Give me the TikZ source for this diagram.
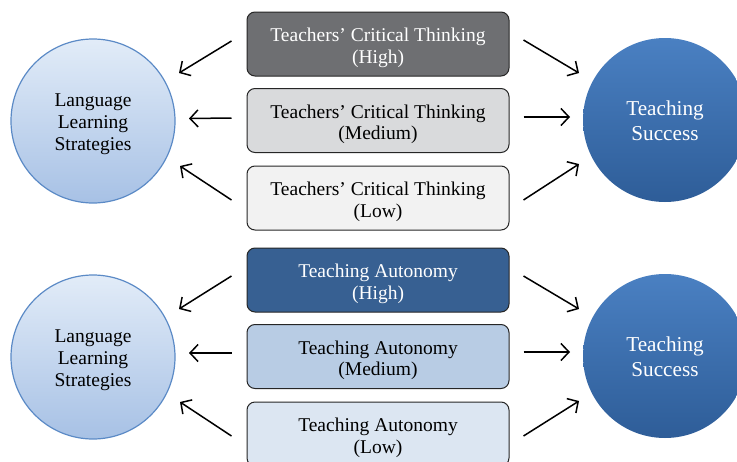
\documentclass[tikz,border=0pt]{standalone}
\usepackage{fontspec}
\setmainfont{Liberation Serif}
\usetikzlibrary{arrows.meta}
\definecolor{ctHigh}{HTML}{6E6F72}
\definecolor{ctMed}{HTML}{D9DADC}
\definecolor{ctLow}{HTML}{F2F2F2}
\definecolor{taHigh}{HTML}{376092}
\definecolor{taMed}{HTML}{B8CCE4}
\definecolor{taLow}{HTML}{DCE6F2}
\definecolor{lcTop}{HTML}{E2ECF8}
\definecolor{lcBot}{HTML}{A7C1E5}
\definecolor{lcBorder}{HTML}{5B8AC6}
\definecolor{rcTop}{HTML}{4A80C2}
\definecolor{rcBot}{HTML}{2E5D98}
% stacked centred lines, shifted down without changing the box size
\newcommand{\stk}[3]{\raisebox{#1}[\height][\depth]{\fontsize{#2}{#3}\selectfont\def\arraystretch{1}\begin{tabular}{@{}c@{}}\stkbody\end{tabular}}}
\newcommand{\boxtxt}[1]{\def\stkbody{#1}\stk{-4.2pt}{19.5}{21.6}}
\newcommand{\lctxt}[1]{\def\stkbody{#1}\stk{-3.1pt}{19.5}{21.7}}
\newcommand{\rctxt}[1]{\def\stkbody{#1}\stk{-3.3pt}{21.2}{24.5}}
\tikzset{
  levelbox/.style={draw=black!85, line width=1pt, rounded corners=8pt,
    minimum width=262pt, minimum height=64pt, inner sep=0pt},
  lcircle/.style={circle, draw=lcBorder, line width=1.2pt, minimum size=164pt,
    top color=lcTop, bottom color=lcBot, inner sep=0pt},
  rcircle/.style={circle, minimum size=164pt, top color=rcTop, bottom color=rcBot,
    inner sep=0pt, text=white},
  arr/.style={-{Straight Barb[length=8pt,width=17pt]}, line width=1.5pt, black}
}
\begin{document}
\begin{tikzpicture}[x=1pt,y=-1pt]
\path[use as bounding box] (0,0) rectangle (737,461);
\clip (0,0) rectangle (737,461);
% circles
\node[lcircle] (L1) at (93,121) {\lctxt{Language\\Learning\\Strategies}};
\node[rcircle] (R1) at (665,120) {\rctxt{Teaching\\Success}};
\node[lcircle] (L2) at (93,357) {\lctxt{Language\\Learning\\Strategies}};
\node[rcircle] (R2) at (665,356) {\rctxt{Teaching\\Success}};
% boxes
\node[levelbox, fill=ctHigh, text=white] (B1) at (378,44) {\boxtxt{Teachers’ Critical Thinking\\(High)}};
\node[levelbox, fill=ctMed] (B2) at (378,120.5) {\boxtxt{Teachers’ Critical Thinking\\(Medium)}};
\node[levelbox, fill=ctLow] (B3) at (378,198) {\boxtxt{Teachers’ Critical Thinking\\(Low)}};
\node[levelbox, fill=taHigh, text=white] (C1) at (378,280) {\boxtxt{Teaching Autonomy\\(High)}};
\node[levelbox, fill=taMed] (C2) at (378,356.5) {\boxtxt{Teaching Autonomy\\(Medium)}};
\node[levelbox, fill=taLow] (C3) at (378,434) {\boxtxt{Teaching Autonomy\\(Low)}};
% arrows upper group
\draw[arr] ([shift={(-15,-3)}]B1.west) -- ([shift={(86,-48)}]L1.center);
\draw[arr] ([shift={(-15,-2.5)}]B2.west) -- ([shift={(96,-2.5)}]L1.center);
\draw[arr] ([shift={(-15,2)}]B3.west) -- ([shift={(87,45)}]L1.center);
\draw[arr] ([shift={(14,-4)}]B1.east) -- ([shift={(-86,-47)}]R1.center);
\draw[arr] ([shift={(14,-3.5)}]B2.east) -- ([shift={(-95,-3)}]R1.center);
\draw[arr] ([shift={(14,2)}]B3.east) -- ([shift={(-86,44)}]R1.center);
% arrows lower group
\draw[arr] ([shift={(-15,-4)}]C1.west) -- ([shift={(86,-48)}]L2.center);
\draw[arr] ([shift={(-15,-3.5)}]C2.west) -- ([shift={(96,-4)}]L2.center);
\draw[arr] ([shift={(-15,2)}]C3.west) -- ([shift={(87,45)}]L2.center);
\draw[arr] ([shift={(14,-4)}]C1.east) -- ([shift={(-86,-47)}]R2.center);
\draw[arr] ([shift={(14,-4.5)}]C2.east) -- ([shift={(-95,-4)}]R2.center);
\draw[arr] ([shift={(14,2)}]C3.east) -- ([shift={(-86,45)}]R2.center);
\end{tikzpicture}
\end{document}
